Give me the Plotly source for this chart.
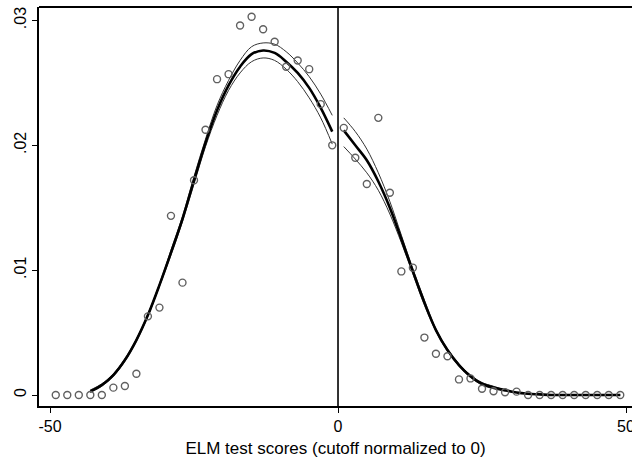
import plotly.graph_objects as go

# Binned density (bin midpoints, width 2)
bin_x = [-49, -47, -45, -43, -41, -39, -37, -35, -33, -31, -29, -27, -25, -23, -21,
         -19, -17, -15, -13, -11, -9, -7, -5, -3, -1,
         1, 3, 5, 7, 9, 11, 13, 15, 17, 19, 21, 23, 25, 27, 29, 31, 33, 35, 37, 39,
         41, 43, 45, 47, 49]
bin_y = [0.0, 0.0, 0.0, 0.0, 0.0, 0.00059, 0.00072, 0.0017, 0.0063, 0.0070, 0.01435, 0.0090,
         0.0172, 0.02125, 0.0253, 0.0257, 0.0296, 0.0303, 0.0293, 0.0283, 0.0263, 0.0268,
         0.0261, 0.0233, 0.0200,
         0.0214, 0.0190, 0.0169, 0.0222, 0.0162, 0.0099, 0.0102, 0.0046, 0.0033, 0.0031,
         0.00125, 0.00133, 0.0005, 0.0003, 0.00022, 0.00027, 0.0, 0.0, 0.0, 0.0,
         0.0, 0.0, 0.0, 0.0, 0.0]

# Left-side fit and confidence band
left_x = [-43, -41, -39, -37, -35, -33, -31, -29, -27, -25, -23, -21, -19, -17, -15,
          -13, -11, -9, -7, -5, -3, -1]
left_fit = [0.0003, 0.0008, 0.0016, 0.0028, 0.0044, 0.0064, 0.0088, 0.0114, 0.0141,
            0.0172, 0.0202, 0.0228, 0.0248, 0.0263, 0.0273, 0.0276, 0.0274, 0.0267,
            0.0258, 0.0246, 0.0230, 0.0211]
left_hi = [0.0004, 0.0009, 0.0017, 0.0029, 0.0045, 0.0065, 0.0089, 0.0116, 0.0143,
           0.0175, 0.0205, 0.0232, 0.0252, 0.0268, 0.0279, 0.0282, 0.0281, 0.0275,
           0.0266, 0.0255, 0.0241, 0.0224]
left_lo = [0.0002, 0.0007, 0.0015, 0.0027, 0.0043, 0.0063, 0.0087, 0.0112, 0.0139,
           0.0169, 0.0199, 0.0224, 0.0244, 0.0258, 0.0267, 0.0270, 0.0268, 0.0261,
           0.0251, 0.0238, 0.0222, 0.0201]

# Right-side fit and confidence band
right_x = [1, 3, 5, 7, 9, 11, 13, 15, 17, 19, 21, 23, 25, 27, 29, 31, 33, 35, 37, 39,
           41, 43, 45, 47, 49]
right_fit = [0.0212, 0.0200, 0.0188, 0.0171, 0.0150, 0.0125, 0.0099, 0.0074, 0.0052,
             0.0036, 0.0024, 0.0015, 0.0009, 0.0006, 0.0004, 0.0002, 0.0001, 0.00005,
             0.0, 0.0, 0.0, 0.0, 0.0, 0.0, 0.0]
right_hi = [0.0222, 0.0211, 0.0197, 0.0178, 0.0155, 0.0128, 0.0101, 0.0076, 0.0053,
            0.0037, 0.0025, 0.0016, 0.0010, 0.0007, 0.0004, 0.0002, 0.0001, 0.00006,
            0.00002, 0.0, 0.0, 0.0, 0.0, 0.0, 0.0]
right_lo = [0.0199, 0.0189, 0.0178, 0.0164, 0.0145, 0.0122, 0.0097, 0.0072, 0.0051,
            0.0035, 0.0023, 0.0014, 0.0008, 0.0005, 0.0003, 0.0002, 0.0001, 0.00004,
            0.0, 0.0, 0.0, 0.0, 0.0, 0.0, 0.0]

x_ticks = [-50, 0, 50]
x_tick_text = ["-50", "0", "50"]
y_ticks = [0, 0.01, 0.02, 0.03]
y_tick_text = ["0", ".01", ".02", ".03"]
x_title = "ELM test scores (cutoff normalized to 0)"

fig = go.Figure()

for xs, ys in [(left_x, left_hi), (left_x, left_lo), (right_x, right_hi), (right_x, right_lo)]:
    fig.add_trace(go.Scatter(x=xs, y=ys, mode="lines", line=dict(color="#333333", width=1, shape="spline"),
                             showlegend=False, hoverinfo="skip"))
for xs, ys in [(left_x, left_fit), (right_x, right_fit)]:
    fig.add_trace(go.Scatter(x=xs, y=ys, mode="lines", line=dict(color="black", width=2.6, shape="spline"),
                             showlegend=False))

fig.add_trace(go.Scatter(x=bin_x, y=bin_y, mode="markers",
                         marker=dict(symbol="circle-open", size=7, color="#606060", line=dict(width=1.4)),
                         showlegend=False))

# cutoff line and top frame line
fig.add_shape(type="line", x0=0, x1=0, xref="x", y0=0, y1=1, yref="paper",
              line=dict(color="black", width=1.6))
fig.add_shape(type="line", x0=0, x1=1, xref="paper", y0=1, y1=1, yref="paper",
              line=dict(color="black", width=2))

fig.update_layout(
    width=632, height=465,
    margin=dict(l=39, r=0, t=7, b=59),
    paper_bgcolor="white", plot_bgcolor="white",
    font=dict(family="Liberation Sans, Arial, sans-serif", size=16, color="black"),
    xaxis=dict(range=[-51.91, 51.04], tickvals=x_ticks, ticktext=x_tick_text,
               showgrid=False, zeroline=False, showline=True, linecolor="black", linewidth=1.5,
               mirror=False, ticks="outside", ticklen=5, tickwidth=1, tickcolor="black",
               ticklabeloverflow="allow", automargin=False,
               title=dict(text=x_title, font=dict(size=17), standoff=8)),
    yaxis=dict(range=[-0.00088, 0.03108], tickvals=y_ticks, ticktext=y_tick_text,
               showgrid=False, zeroline=False, showline=True, linecolor="black", linewidth=1.5,
               mirror=False, ticks="outside", ticklen=5, tickwidth=1, tickcolor="black", tickangle=-90,
               automargin=False),
)

fig.write_html("out.html")
